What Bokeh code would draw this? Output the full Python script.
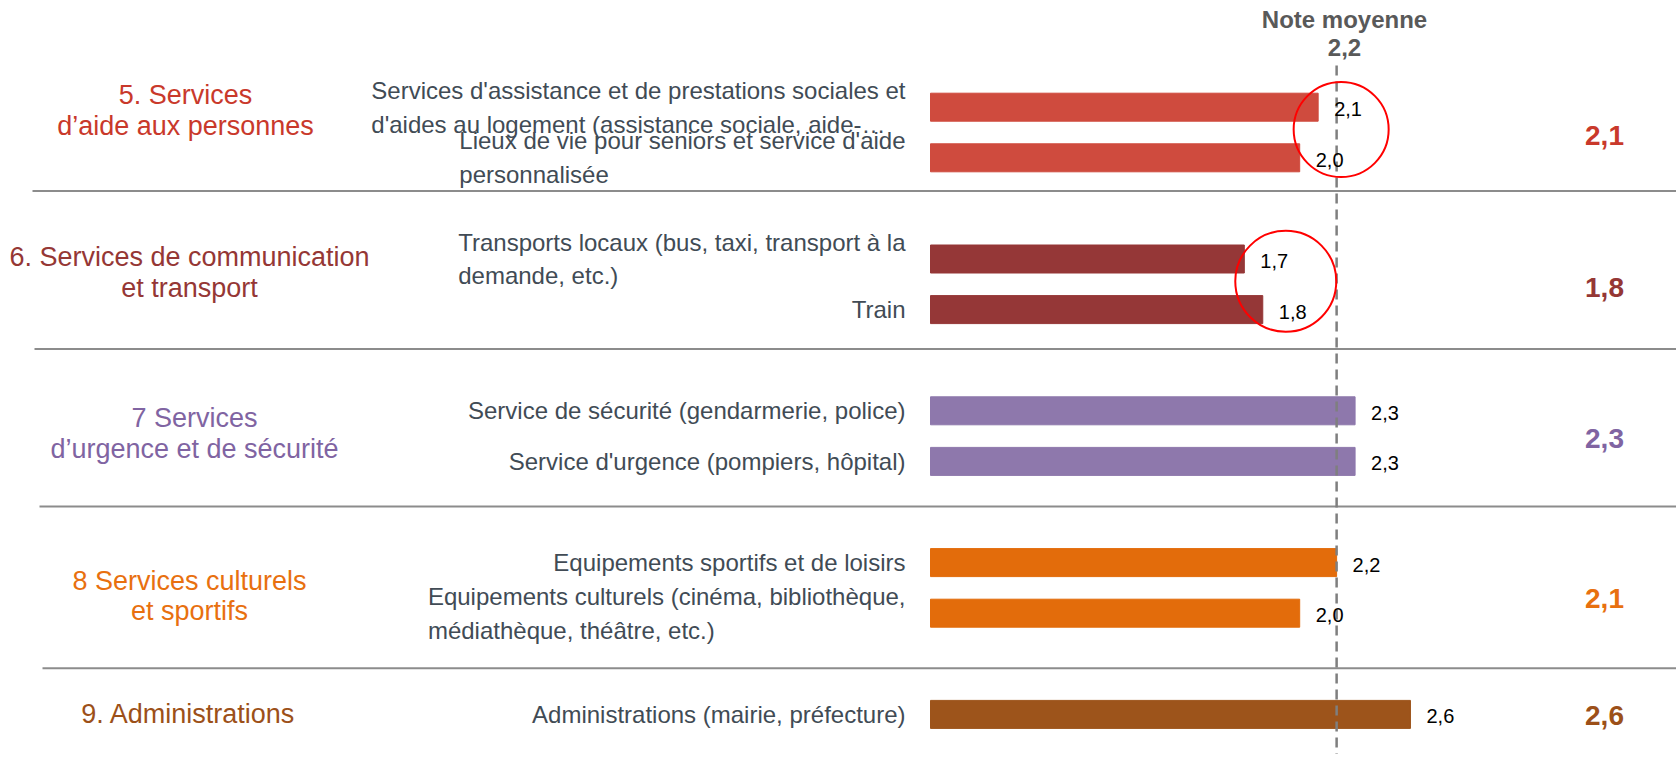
from bokeh.plotting import figure
from bokeh.models import Range1d, ColumnDataSource
from bokeh.embed import file_html
from bokeh.resources import INLINE
from bokeh.core.properties import value

# ---------------- data ----------------
group_labels = [
    "5. Services\nd\u2019aide aux personnes",
    "6. Services de communication\net transport",
    "7 Services\nd\u2019urgence et de sécurité",
    "8 Services culturels\net sportifs",
    "9. Administrations",
]
group_scores = [2.1, 1.8, 2.3, 2.1, 2.6]

item_labels = [
    "Services d'assistance et de prestations sociales et\nd'aides au logement (assistance sociale, aide-\u2026",
    "Lieux de vie pour seniors et service d'aide\npersonnalisée",
    "Transports locaux (bus, taxi, transport à la\ndemande, etc.)",
    "Train",
    "Service de sécurité (gendarmerie, police)",
    "Service d'urgence (pompiers, hôpital)",
    "Equipements sportifs et de loisirs",
    "Equipements culturels (cinéma, bibliothèque,\nmédiathèque, théâtre, etc.)",
    "Administrations (mairie, préfecture)",
]
item_group = [0, 0, 1, 1, 2, 2, 3, 3, 4]
item_values = [2.1, 2.0, 1.7, 1.8, 2.3, 2.3, 2.2, 2.0, 2.6]

mean_label = "Note moyenne"
mean_score = 2.2

highlight_groups = [0, 1]

# ---------------- styles / layout ----------------
bar_colors = ["#CF4B3E", "#953737", "#8E78AC", "#E36C0B", "#9D541B"]
label_colors = ["#C9392B", "#953735", "#8064A2", "#E8700F", "#9C5019"]
text_color = "#414B55"
FONT = "Liberation Sans"

W, H = 1676, 754
X0 = 930.0          # page x of value 0
SCALE = 184.6       # px per unit


def vx(page_x):
    return (page_x - X0) / SCALE


# row slots (group gap = one empty slot)
slots = []
s = 0
prev = item_group[0]
for g in item_group:
    if g != prev:
        s += 1
        prev = g
    slots.append(s)
    s += 1
row_y = [106.7 + 50.6 * k for k in slots]

sep_y = [190.5, 348.5, 506.0, 667.7]
sep_x0 = [vx(32), vx(34), vx(39), vx(42)]
group_label_x = [vx(185), vx(189), vx(194), vx(189), vx(188)]
group_label_y = [110.0, 272.0, 433.0, 595.5, 713.5]
group_score_y = [135.0, 287.0, 438.0, 598.0, 715.0]

p = figure(width=W, height=H, output_backend="svg", toolbar_location=None,
           x_axis_type=None, y_axis_type=None,
           x_range=Range1d(vx(0), vx(W)), y_range=Range1d(H, 0),
           min_border=0, min_border_left=0, min_border_right=0,
           min_border_top=0, min_border_bottom=0)
p.outline_line_color = None
p.xgrid.visible = False
p.ygrid.visible = False
p.background_fill_color = "white"
p.border_fill_color = "white"

# separators
p.segment(x0=sep_x0, x1=[vx(1700)] * len(sep_y), y0=sep_y, y1=sep_y,
          line_color="#8C8C8C", line_width=2)

# bars
src = ColumnDataSource(dict(
    y=row_y, v=item_values,
    c=[bar_colors[g] for g in item_group],
    lab=[f"{v:.1f}".replace(".", ",") for v in item_values],
    name=item_labels,
    lx=[vx(905)] * len(item_labels),
))
p.hbar(y="y", left=0, right="v", height=28, color="c", source=src)

# mean dashed line
p.segment(x0=[mean_score], x1=[mean_score], y0=[65], y1=[770],
          line_color="#7F7F7F", line_width=2.5, line_dash="10 6")

# value labels
p.text(x="v", y="y", text="lab", source=src, x_offset=16, y_offset=2,
       text_font=value(FONT), text_font_size="20px", text_color="black",
       text_align="left", text_baseline="middle")

# item labels
p.text(x="lx", y="y", text="name", source=src,
       text_font=value(FONT), text_font_size="24px", text_color=text_color,
       text_align="left", text_baseline="middle", anchor="center_right",
       text_line_height=1.25)

# group labels
p.text(x=group_label_x, y=group_label_y, text=group_labels,
       text_font=value(FONT), text_font_size="27px", text_color=label_colors,
       text_align="center", text_baseline="middle", anchor="center",
       text_line_height=1.03)

# group scores
p.text(x=[vx(1604)] * len(group_scores), y=group_score_y,
       text=[f"{v:.1f}".replace(".", ",") for v in group_scores],
       text_font=value(FONT), text_font_size="28px", text_font_style="bold",
       text_color=label_colors, text_align="center", text_baseline="middle")

# mean label
p.text(x=[vx(1344)], y=[33.0],
       text=[mean_label + "\n" + f"{mean_score:.1f}".replace(".", ",")],
       text_font=value(FONT), text_font_size="24px", text_font_style="bold",
       text_color="#595959", text_align="center", text_baseline="middle",
       anchor="center", text_line_height=1.06)

# highlight circles
hx, hy = [], []
for g in highlight_groups:
    idx = [i for i, gg in enumerate(item_group) if gg == g]
    hx.append(max(item_values[i] for i in idx) + 23 / SCALE)
    hy.append(sum(row_y[i] for i in idx) / len(idx) - 3)
p.scatter(x=hx, y=hy, size=[95, 101], marker="circle", fill_alpha=0,
          line_color="#FF0000", line_width=2)

open("out.html", "w").write(file_html(p, INLINE))
